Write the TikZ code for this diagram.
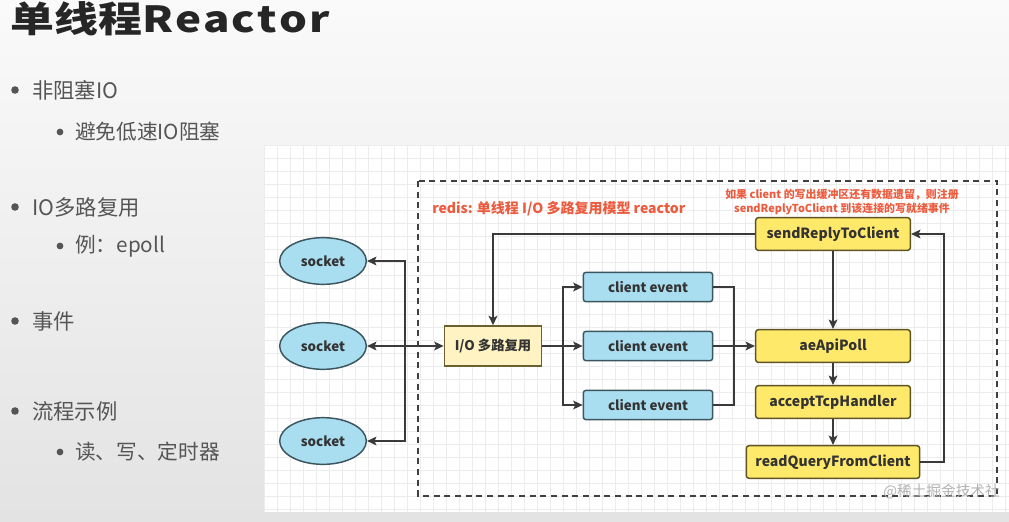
\documentclass[tikz,border=0pt]{standalone}
\usepackage{fontspec}
\setmainfont{Noto Sans CJK SC}
\newfontfamily\titlefont{Noto Sans CJK SC}[FakeStretch=1.22]
\usetikzlibrary{arrows.meta,shapes.geometric,calc}
\definecolor{txtgray}{HTML}{555555}
\definecolor{lineC}{HTML}{3A3A3A}
\definecolor{yelF}{HTML}{FFE96A}
\definecolor{yelD}{HTML}{5E5424}
\definecolor{paleY}{HTML}{FFF3C4}
\definecolor{paleYD}{HTML}{6B6030}
\definecolor{bluF}{HTML}{A9DDF0}
\definecolor{bluD}{HTML}{3C5660}
\definecolor{redT}{HTML}{EC5B3D}
\definecolor{gridC}{HTML}{ECECEC}
\begin{document}
\begin{tikzpicture}[x=0.75pt,y=-0.75pt,
  every node/.style={font=\bfseries, text=black!80},
  arr/.style={draw=lineC, line width=1.4pt, -{Stealth[length=7pt,width=6.5pt,inset=1.5pt]}},
  ln/.style={draw=lineC, line width=1.4pt},
  sock/.style={ellipse, draw=bluD, fill=bluF, line width=1.1pt, minimum width=65pt, minimum height=35pt, inner sep=0pt, font=\bfseries\fontsize{10pt}{12pt}\selectfont},
  cev/.style={rectangle, rounded corners=2pt, draw=bluD, fill=bluF, line width=1.1pt, minimum width=97pt, minimum height=22pt, inner sep=0pt, font=\bfseries\fontsize{10pt}{12pt}\selectfont},
  ybox/.style={rectangle, rounded corners=2pt, draw=yelD, fill=yelF, line width=1.1pt, minimum width=116pt, minimum height=24.5pt, inner sep=0pt, font=\bfseries\fontsize{10.5pt}{12pt}\selectfont},
  iobox/.style={rectangle, draw=paleYD, fill=paleY, line width=1.1pt, minimum width=73pt, minimum height=30pt, inner sep=0pt, font=\bfseries\fontsize{10pt}{12pt}\selectfont},
  lvA/.style={anchor=west, text=txtgray, font=\fontsize{16pt}{18pt}\selectfont, inner sep=0pt},
  lvB/.style={anchor=west, text=txtgray, font=\fontsize{15.5pt}{18pt}\selectfont, inner sep=0pt},
  dot/.style={fill=txtgray, draw=none}
]
% background
\shade[top color=white!98!black, bottom color=black!11] (0,0) rectangle (1009,521);
\useasboundingbox (0,0) rectangle (1009,521);
% grid panel
\fill[white] (264,145) rectangle (1009,512);
\begin{scope}
\clip (264,145) rectangle (1009,512);
\foreach \gx in {264,277,...,1009} \draw[gridC, line width=0.6pt] (\gx,145) -- (\gx,512);
\foreach \gy in {145,158,...,512} \draw[gridC, line width=0.6pt] (264,\gy) -- (1009,\gy);
\end{scope}
% title
\node[anchor=west, inner sep=0pt, text=black!85, font=\titlefont\bfseries\fontsize{27pt}{30pt}\selectfont] (title) at (10,19) {单线程R\kern1.5pt e\kern1.5pt a\kern1.5pt c\kern1.5pt t\kern1.5pt o\kern1.5pt r};
% bullets
\fill[dot] (15,90) circle (3.8);
\node[lvA] (b1) at (32,90) {非阻塞IO};
\fill[dot] (60,132) circle (3.4);
\node[lvB] (b1a) at (75,132) {避免低速IO阻塞};
\fill[dot] (15,207) circle (3.8);
\node[lvA] (b2) at (32,207) {IO多路复用};
\fill[dot] (60,246) circle (3.4);
\node[lvB] (b2a) at (75,246) {例：epoll};
\fill[dot] (15,321) circle (3.8);
\node[lvA] (b3) at (32,321) {事件};
\fill[dot] (15,411) circle (3.8);
\node[lvA] (b4) at (32,411) {流程示例};
\fill[dot] (60,452) circle (3.4);
\node[lvB] (b4a) at (75,452) {读、写、定时器};
% dashed frame
\draw[draw=black!75, line width=1.5pt, dash pattern=on 4.5pt off 3.5pt] (418,181) rectangle (997,496);
% red labels
\node[anchor=west, inner sep=0pt, text=redT, font=\bfseries\fontsize{10.5pt}{12pt}\selectfont] (lbl) at (432,209) {redis: 单线程 I/O 多路复用模型 reactor};
\node[align=center, inner sep=0pt, text=redT, font=\bfseries\fontsize{8.2pt}{10.5pt}\selectfont] (note) at (842,202) {如果 client 的写出缓冲区还有数据遗留，则注册\\sendReplyToClient 到该连接的写就绪事件};
% nodes
\node[sock] (s1) at (323,261) {socket};
\node[sock] (s2) at (323,346) {socket};
\node[sock] (s3) at (323,441) {socket};
\node[iobox] (io) at (493,346) {I/O 多路复用};
\node[cev] (c1) at (648,287) {client event};
\node[cev] (c2) at (648,346) {client event};
\node[cev] (c3) at (648,405) {client event};
\node[ybox] (srv) at (833,234) {sendReplyToClient};
\node[ybox] (poll) at (833,346) {aeApiPoll};
\node[ybox] (acc) at (833,402) {acceptTcpHandler};
\node[ybox, minimum width=130pt] (rq) at (833,462) {readQueryFromClient};
% connectors
\coordinate (bus) at (405,346);
\draw[arr] (bus) |- (s1.east);
\draw[arr] (bus) |- (s3.east);
\draw[arr, {Stealth[length=7pt,width=6.5pt,inset=1.5pt]}-{Stealth[length=7pt,width=6.5pt,inset=1.5pt]}] (s2.east) -- (io.west);
\coordinate (sp) at (563,346);
\draw[ln] (io.east) -- (sp);
\draw[arr] (sp) |- (c1.west);
\draw[arr] (sp) |- (c3.west);
\draw[arr] (sp) -- (c2.west);
\coordinate (mg) at (734,346);
\draw[ln] (c1.east) -| (mg);
\draw[ln] (c3.east) -| (mg);
\draw[arr] (c2.east) -- (poll.west);
\draw[arr] (srv.west) -| (io.north);
\draw[arr] (srv.south) -- (poll.north);
\draw[arr] (poll.south) -- (acc.north);
\draw[arr] (acc.south) -- (rq.north);
\coordinate (rt) at (944,234);
\draw[arr] (rq.east) -| (rt) -- (srv.east);
% watermark
\begin{scope}
\clip (860,470) rectangle (1000,512);
\node[anchor=west, inner sep=0pt, text=black!30, font=\fontsize{11pt}{12pt}\selectfont] (wm) at (883,492) {@稀土掘金技术社区};
\end{scope}
\end{tikzpicture}
\end{document}
